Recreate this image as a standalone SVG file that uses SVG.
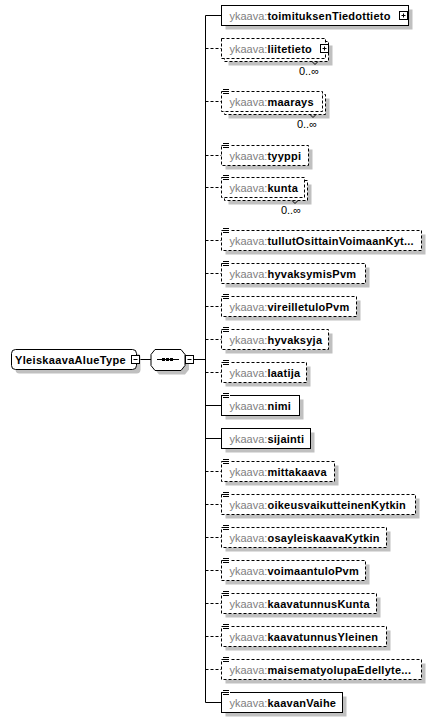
<svg xmlns="http://www.w3.org/2000/svg" width="436" height="722" viewBox="0 0 436 722">
<style>
.bx{fill:#fff;stroke:#000;stroke-width:1}
.dsh{stroke-dasharray:3,2}
.sh{fill:#c0c0c0}
.ln{stroke:#000;stroke-width:1;fill:none}
.t{font-family:"Liberation Sans",Arial,sans-serif;font-size:11px}
.p{fill:#808080}
.n{fill:#000;font-weight:bold;letter-spacing:0.25px}
.oc{font-family:"Liberation Sans",Arial,sans-serif;font-size:11px;fill:#000}
.ic{fill:#fff;stroke:#000;stroke-width:1}
</style>
<defs>
<g id="eq"><rect x="0" y="-1" width="7" height="6" fill="#fff"/><path d="M0,-0.5H6M0,1.5H6M0,3.5H6" stroke="#000" stroke-width="1"/></g>
<g id="plus"><rect class="ic" x="0" y="0" width="8" height="8"/><path d="M2,4H6M4,2V6" stroke="#000" stroke-width="1"/></g>
<g id="minus"><rect class="ic" x="0" y="0" width="8" height="8"/><path d="M2,4H6" stroke="#000" stroke-width="1"/></g>
</defs>

<g id="connectors">
<path class="ln" d="M205.5,15.5V702.5"/>
<path class="ln" d="M139.5,359.5H151M193.5,359.5H205.5"/>
<path class="ln" d="M205.5,15.5H221.5M205.5,405.5H221.5M205.5,438.5H221.5M205.5,702.5H221.5"/>
<path class="ln dsh" d="M205.5,48.5H221.5M205.5,101.5H221.5M205.5,155.5H221.5M205.5,187.5H221.5M205.5,240.5H221.5M205.5,273.5H221.5M205.5,306.5H221.5M205.5,339.5H221.5M205.5,372.5H221.5M205.5,471.5H221.5M205.5,504.5H221.5M205.5,537.5H221.5M205.5,570.5H221.5M205.5,603.5H221.5M205.5,636.5H221.5M205.5,669.5H221.5"/>
</g>

<g id="root">
<rect class="sh" x="15.5" y="353.5" width="125" height="20" rx="4"/>
<rect class="bx" x="11.5" y="349.5" width="125" height="20" rx="4"/>
<text class="t n" x="15" y="363.5" style="letter-spacing:0.33px">YleiskaavaAlueType</text>
<use href="#minus" x="131.5" y="355.5"/>
</g>

<g id="sequence">
<path class="sh" d="M159,353.5H185L189,358.5V369.5L185,374.5H159L155,369.5V358.5Z"/>
<path class="bx" d="M155,349.5H181L185,354.5V365.5L181,370.5H155L151,365.5V354.5Z"/>
<path class="ln" d="M157,359.5H179"/>
<rect x="162" y="358" width="3" height="3" fill="#000"/>
<rect x="166" y="358" width="3" height="3" fill="#000"/>
<rect x="170" y="358" width="3" height="3" fill="#000"/>
<use href="#minus" x="185.5" y="355.5"/>
</g>

<g id="e1">
<rect class="sh" x="225.5" y="9.5" width="187" height="20"/>
<rect class="bx" x="221.5" y="5.5" width="187" height="20"/>
<text class="t" x="229.5" y="19.5"><tspan class="p">ykaava:</tspan><tspan class="n">toimituksenTiedottieto</tspan></text>
<use href="#plus" x="399.5" y="11.5"/>
</g>

<g id="e2">
<rect class="sh" x="228.5" y="45.5" width="104" height="20"/>
<rect class="bx dsh" x="224.5" y="41.5" width="104" height="20"/>
<rect class="bx dsh" x="221.5" y="38.5" width="104" height="20"/>
<text class="t" x="229.5" y="52.5"><tspan class="p">ykaava:</tspan><tspan class="n">liitetieto</tspan></text>
<use href="#plus" x="320.5" y="44.5"/>
<path class="ln" d="M312,61.5L315,64.5L318,61.5"/>
<text class="oc" x="319" y="75" text-anchor="end">0..∞</text>
</g>

<g id="e3">
<rect class="sh" x="228.5" y="98.5" width="101" height="20"/>
<rect class="bx dsh" x="224.5" y="94.5" width="101" height="20"/>
<rect class="bx dsh" x="221.5" y="91.5" width="101" height="20"/>
<use href="#eq" x="223" y="90"/>
<text class="t" x="229.5" y="105.5"><tspan class="p">ykaava:</tspan><tspan class="n">maarays</tspan></text>
<path class="ln" d="M310,114.5L313,117.5L316,114.5"/>
<text class="oc" x="317" y="128" text-anchor="end">0..∞</text>
</g>

<g id="e4">
<rect class="sh" x="225.5" y="149.5" width="87" height="20"/>
<rect class="bx dsh" x="221.5" y="145.5" width="87" height="20"/>
<use href="#eq" x="223" y="144"/>
<text class="t" x="229.5" y="159.5"><tspan class="p">ykaava:</tspan><tspan class="n">tyyppi</tspan></text>
</g>

<g id="e5">
<rect class="sh" x="228.5" y="184.5" width="83" height="20"/>
<rect class="bx dsh" x="224.5" y="180.5" width="83" height="20"/>
<rect class="bx dsh" x="221.5" y="177.5" width="83" height="20"/>
<use href="#eq" x="223" y="176"/>
<text class="t" x="229.5" y="191.5"><tspan class="p">ykaava:</tspan><tspan class="n">kunta</tspan></text>
<path class="ln" d="M292,200.5L295,203.5L298,200.5"/>
<text class="oc" x="301" y="214" text-anchor="end">0..∞</text>
</g>

<g id="e6">
<rect class="sh" x="225.5" y="234.5" width="200" height="20"/>
<rect class="bx dsh" x="221.5" y="230.5" width="200" height="20"/>
<use href="#eq" x="223" y="229"/>
<text class="t" x="229.5" y="244.5"><tspan class="p">ykaava:</tspan><tspan class="n">tullutOsittainVoimaanKyt...</tspan></text>
</g>

<g id="e7">
<rect class="sh" x="225.5" y="267.5" width="144" height="20"/>
<rect class="bx dsh" x="221.5" y="263.5" width="144" height="20"/>
<use href="#eq" x="223" y="262"/>
<text class="t" x="229.5" y="277.5"><tspan class="p">ykaava:</tspan><tspan class="n">hyvaksymisPvm</tspan></text>
</g>

<g id="e8">
<rect class="sh" x="225.5" y="300.5" width="135" height="20"/>
<rect class="bx dsh" x="221.5" y="296.5" width="135" height="20"/>
<use href="#eq" x="223" y="295"/>
<text class="t" x="229.5" y="310.5"><tspan class="p">ykaava:</tspan><tspan class="n">vireilletuloPvm</tspan></text>
</g>

<g id="e9">
<rect class="sh" x="225.5" y="333.5" width="107" height="20"/>
<rect class="bx dsh" x="221.5" y="329.5" width="107" height="20"/>
<use href="#eq" x="223" y="328"/>
<text class="t" x="229.5" y="343.5"><tspan class="p">ykaava:</tspan><tspan class="n">hyvaksyja</tspan></text>
</g>

<g id="e10">
<rect class="sh" x="225.5" y="366.5" width="85" height="20"/>
<rect class="bx dsh" x="221.5" y="362.5" width="85" height="20"/>
<use href="#eq" x="223" y="361"/>
<text class="t" x="229.5" y="376.5"><tspan class="p">ykaava:</tspan><tspan class="n">laatija</tspan></text>
</g>

<g id="e11">
<rect class="sh" x="225.5" y="399.5" width="78" height="20"/>
<rect class="bx" x="221.5" y="395.5" width="78" height="20"/>
<use href="#eq" x="223" y="394"/>
<text class="t" x="229.5" y="409.5"><tspan class="p">ykaava:</tspan><tspan class="n">nimi</tspan></text>
</g>

<g id="e12">
<rect class="sh" x="225.5" y="432.5" width="89" height="20"/>
<rect class="bx" x="221.5" y="428.5" width="89" height="20"/>
<text class="t" x="229.5" y="442.5"><tspan class="p">ykaava:</tspan><tspan class="n">sijainti</tspan></text>
</g>

<g id="e13">
<rect class="sh" x="225.5" y="465.5" width="113" height="20"/>
<rect class="bx dsh" x="221.5" y="461.5" width="113" height="20"/>
<use href="#eq" x="223" y="460"/>
<text class="t" x="229.5" y="475.5"><tspan class="p">ykaava:</tspan><tspan class="n">mittakaava</tspan></text>
</g>

<g id="e14">
<rect class="sh" x="225.5" y="498.5" width="194" height="20"/>
<rect class="bx dsh" x="221.5" y="494.5" width="194" height="20"/>
<use href="#eq" x="223" y="493"/>
<text class="t" x="229.5" y="508.5"><tspan class="p">ykaava:</tspan><tspan class="n">oikeusvaikutteinenKytkin</tspan></text>
</g>

<g id="e15">
<rect class="sh" x="225.5" y="531.5" width="165" height="20"/>
<rect class="bx dsh" x="221.5" y="527.5" width="165" height="20"/>
<use href="#eq" x="223" y="526"/>
<text class="t" x="229.5" y="541.5"><tspan class="p">ykaava:</tspan><tspan class="n">osayleiskaavaKytkin</tspan></text>
</g>

<g id="e16">
<rect class="sh" x="225.5" y="564.5" width="144" height="20"/>
<rect class="bx dsh" x="221.5" y="560.5" width="144" height="20"/>
<use href="#eq" x="223" y="559"/>
<text class="t" x="229.5" y="574.5"><tspan class="p">ykaava:</tspan><tspan class="n">voimaantuloPvm</tspan></text>
</g>

<g id="e17">
<rect class="sh" x="225.5" y="597.5" width="155" height="20"/>
<rect class="bx dsh" x="221.5" y="593.5" width="155" height="20"/>
<use href="#eq" x="223" y="592"/>
<text class="t" x="229.5" y="607.5"><tspan class="p">ykaava:</tspan><tspan class="n">kaavatunnusKunta</tspan></text>
</g>

<g id="e18">
<rect class="sh" x="225.5" y="630.5" width="165" height="20"/>
<rect class="bx dsh" x="221.5" y="626.5" width="165" height="20"/>
<use href="#eq" x="223" y="625"/>
<text class="t" x="229.5" y="640.5"><tspan class="p">ykaava:</tspan><tspan class="n">kaavatunnusYleinen</tspan></text>
</g>

<g id="e19">
<rect class="sh" x="225.5" y="663.5" width="200" height="20"/>
<rect class="bx dsh" x="221.5" y="659.5" width="200" height="20"/>
<use href="#eq" x="223" y="658"/>
<text class="t" x="229.5" y="673.5"><tspan class="p">ykaava:</tspan><tspan class="n">maisematyolupaEdellyte...</tspan></text>
</g>

<g id="e20">
<rect class="sh" x="225.5" y="696.5" width="121" height="20"/>
<rect class="bx" x="221.5" y="692.5" width="121" height="20"/>
<use href="#eq" x="223" y="691"/>
<text class="t" x="229.5" y="706.5"><tspan class="p">ykaava:</tspan><tspan class="n">kaavanVaihe</tspan></text>
</g>
</svg>
